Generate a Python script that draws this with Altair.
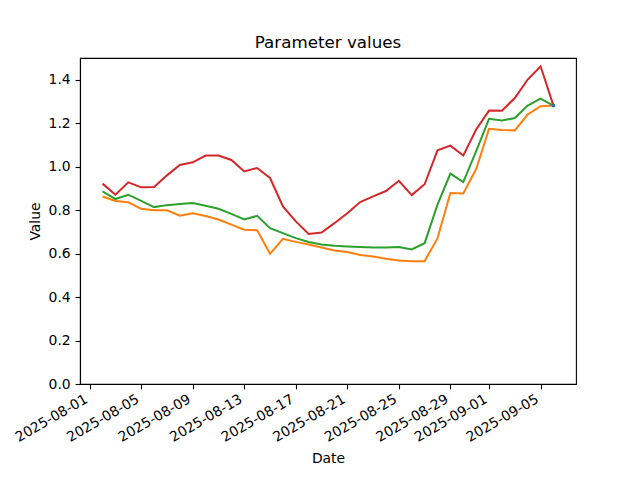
import altair as alt
import pandas as pd

dates = [d.strftime("%Y-%m-%d") for d in pd.date_range("2025-08-02", "2025-09-06")]

orange = [0.863, 0.842, 0.836, 0.806, 0.799, 0.799, 0.774, 0.786, 0.773, 0.757,
          0.733, 0.710, 0.707, 0.599, 0.668, 0.654, 0.642, 0.628, 0.614,
          0.607, 0.594, 0.587, 0.576, 0.568, 0.565, 0.565, 0.671, 0.879, 0.877, 0.989,
          1.174, 1.169, 1.167, 1.240, 1.278, 1.281]
green = [0.886, 0.851, 0.871, 0.843, 0.814, 0.823, 0.828, 0.833, 0.820, 0.806,
         0.783, 0.757, 0.774, 0.717, 0.694, 0.671, 0.653, 0.642, 0.636,
         0.633, 0.630, 0.628, 0.628, 0.630, 0.619, 0.648, 0.825, 0.968, 0.929, 1.071,
         1.220, 1.212, 1.224, 1.281, 1.313, 1.281]
red = [0.922, 0.871, 0.928, 0.905, 0.906, 0.960, 1.008, 1.020, 1.051, 1.051,
       1.031, 0.978, 0.994, 0.948, 0.817, 0.748, 0.690, 0.697, 0.740,
       0.786, 0.837, 0.863, 0.888, 0.935, 0.869, 0.919, 1.075, 1.097, 1.051, 1.171,
       1.258, 1.257, 1.316, 1.401, 1.462, 1.281]
blue_dates = ["2025-09-06"]
blue = [1.281]

series_names = ["orange", "green", "red"]
series_values = [orange, green, red]
series_colors = {"blue": "#1f77b4", "orange": "#ff7f0e", "green": "#2ca02c", "red": "#d62728"}

rows = []
for name, vals in zip(series_names, series_values):
    for d, v in zip(dates, vals):
        rows.append({"date": d, "value": v, "series": name})
df = pd.DataFrame(rows)
df_blue = pd.DataFrame({"date": blue_dates, "value": blue, "series": ["blue"] * len(blue)})

tick_dates = ["2025-08-01", "2025-08-05", "2025-08-09", "2025-08-13", "2025-08-17",
              "2025-08-21", "2025-08-25", "2025-08-29", "2025-09-01", "2025-09-05"]


def dt(s, hours=0):
    y, m, d = (int(p) for p in s.split("-"))
    return alt.DateTime(year=y, month=m, date=d, hours=hours, utc=True)


x_enc = alt.X(
    "date:T",
    scale=alt.Scale(type="utc", domain=[dt("2025-07-31", 6), dt("2025-09-07", 18)], nice=False),
    axis=alt.Axis(
        values=[dt(t) for t in tick_dates],
        labelExpr="utcFormat(datum.value, '%Y-%m-%d')",
        labelOverlap=False,
        labelAngle=-30,
        labelAlign="right",
        labelBaseline="top",
        labelOffset=-7,
        labelPadding=3,
        title="Date",
        titlePadding=7,
        grid=False,
    ),
)
y_enc = alt.Y(
    "value:Q",
    scale=alt.Scale(domain=[0, 1.5], nice=False, zero=True),
    axis=alt.Axis(values=[0, 0.2, 0.4, 0.6, 0.8, 1.0, 1.2, 1.4], format=".1f", title="Value",
                  grid=False, labelPadding=4.9, titlePadding=6),
)
color_enc = alt.Color(
    "series:N",
    scale=alt.Scale(domain=list(series_colors.keys()), range=list(series_colors.values())),
    legend=None,
)

lines = alt.Chart(df).mark_line(strokeWidth=2).encode(x=x_enc, y=y_enc, color=color_enc)
point = alt.Chart(df_blue).mark_circle(size=14, opacity=1).encode(x=x_enc, y=y_enc, color=color_enc)

chart = (
    alt.layer(lines, point)
    .properties(
        width=496,
        height=326,
        title=alt.Title("Parameter values", fontSize=16.7, fontWeight="normal", offset=6),
        autosize=alt.AutoSizeParams(type="none"),
        padding={"left": 72, "top": 50, "right": 56, "bottom": 88},
    )
    .configure(font="DejaVu Sans")
    .configure_view(stroke="black", strokeWidth=1.1)
    .configure_axis(
        labelFont="DejaVu Sans",
        titleFont="DejaVu Sans",
        labelFontSize=13.9,
        titleFontSize=13.9,
        titleFontWeight="normal",
        labelColor="black",
        titleColor="black",
        domainColor="black",
        tickColor="black",
        tickSize=4.9,
        domainWidth=1.1,
        tickWidth=1.1,
    )
    .configure_title(font="DejaVu Sans", color="black", anchor="middle")
)

chart.save("out.html", embed_options={"renderer": "svg", "actions": False})
